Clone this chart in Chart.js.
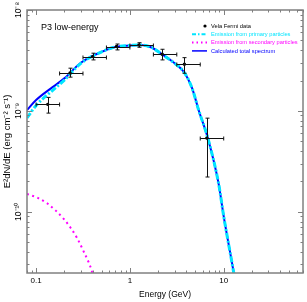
<!DOCTYPE html>
<html>
<head>
<meta charset="utf-8">
<script src="https://cdn.jsdelivr.net/npm/chart.js@4.4.1/dist/chart.umd.min.js"></script>
<style>
  html, body { margin: 0; padding: 0; background: #fff; }
  canvas { display: block; }
</style>
</head>
<body>
<canvas id="sed" width="307" height="302"></canvas>
<script>
'use strict'

const FONT = '"Liberation Sans", Arial, sans-serif'

// Vela Fermi data (energy in GeV, E^2 dN/dE in erg cm^-2 s^-1)
const dataE    = [0.133, 0.23, 0.40, 0.72, 1.25, 2.21, 3.81, 6.6]
const dataELow = [0.1, 0.178, 0.316, 0.562, 1.0, 1.78, 3.16, 5.62]
const dataEHigh = [0.178, 0.316, 0.562, 1.0, 1.78, 3.16, 5.62, 10.0]
const dataF    = [1.16e-9, 2.38e-9, 3.45e-9, 4.34e-9, 4.5e-9, 3.64e-9, 2.9e-9, 5.37e-10]
const dataFLow = [0.95e-9, 2.16e-9, 3.2e-9, 4.02e-9, 4.27e-9, 3.2e-9, 2.36e-9, 2.21e-10]
const dataFHigh = [1.36e-9, 2.65e-9, 3.73e-9, 4.6e-9, 4.74e-9, 4.08e-9, 3.37e-9, 8.47e-10]

// model curves
const totalE = [0.08, 0.1, 0.15, 0.2, 0.3, 0.5, 0.7, 1.0, 1.3, 1.7, 2.2, 3.0, 3.8, 4.6, 5.4, 6.8, 8.8, 10, 12.8, 14]
const totalF = [1.02e-9, 1.28e-9, 1.72e-9, 2.1e-9, 3.0e-9, 3.85e-9, 4.3e-9, 4.45e-9, 4.5e-9, 4.25e-9, 3.64e-9, 2.96e-9, 2.4e-9, 1.68e-9, 1.02e-9, 5.3e-10, 1.92e-10, 9e-11, 2.47e-11, 1.5e-11]
const primaryE = [0.08, 0.1, 0.15, 0.2, 0.3, 0.5, 0.7, 1.0, 1.3, 1.7, 2.2, 3.0, 3.8, 4.6, 5.4, 6.8, 8.8, 10, 12.8, 14]
const primaryF = [8.5e-10, 1.13e-9, 1.6e-9, 2.02e-9, 2.96e-9, 3.85e-9, 4.3e-9, 4.45e-9, 4.5e-9, 4.25e-9, 3.64e-9, 2.96e-9, 2.4e-9, 1.68e-9, 1.02e-9, 5.3e-10, 1.92e-10, 9e-11, 2.47e-11, 1.5e-11]
const secondaryE = [0.08, 0.104, 0.133, 0.163, 0.198, 0.234, 0.273, 0.321, 0.366, 0.387, 0.42]
const secondaryF = [1.5e-10, 1.37e-10, 1.2e-10, 1.02e-10, 8.45e-11, 6.9e-11, 5.5e-11, 4.05e-11, 3.1e-11, 2.7e-11, 2.0e-11]

// axes
const xMajor = [0.1, 1, 10]
const xMajorLabels = ['0.1', '1', '10']
const yMajor = [1e-10, 1e-9, 1e-8]
const yMajorLabels = ['10⁻¹⁰', '10⁻⁹', '10⁻⁸']
const xRange = [0.08, 70]
const yRange = [2.47e-11, 1e-8]

const legendItems = [
  {text: 'Vela Fermi data', color: '#000000', kind: 'point'},
  {text: 'Emission from primary particles', color: '#00e5ff', kind: 'dashdot'},
  {text: 'Emission from secondary particles', color: '#ff00ff', kind: 'dot'},
  {text: 'Calculated total spectrum', color: '#0000ff', kind: 'solid'}
]

function toXY(xs, ys) {
  return xs.map((x, i) => ({x: x, y: ys[i]}))
}

// all decade multiples inside the range, majors flagged
function logTicks(majors, range) {
  const out = []
  const first = majors[0] / 10
  for (let d = first; d <= majors[majors.length - 1] * 10; d *= 10) {
    for (let m = 1; m <= 9; m++) {
      const v = +(m * d).toPrecision(6)
      if (v >= range[0] * 0.999 && v <= range[1] * 1.001) out.push({value: v, major: m === 1})
    }
  }
  return out
}

function labelFor(v, majors, labels) {
  const i = majors.findIndex(m => Math.abs(Math.log10(m) - Math.log10(v)) < 1e-6)
  return i >= 0 ? labels[i] : ''
}

const framePlugin = {
  id: 'frame',
  afterDatasetsDraw(chart) {
    const {ctx, scales: {x, y}} = chart
    ctx.save()
    ctx.strokeStyle = '#111'
    ctx.lineWidth = 1
    ctx.beginPath()
    dataE.forEach((e, i) => {
      const px = x.getPixelForValue(e)
      const py = y.getPixelForValue(dataF[i])
      const x0 = x.getPixelForValue(dataELow[i])
      const x1 = x.getPixelForValue(dataEHigh[i])
      const y0 = y.getPixelForValue(dataFLow[i])
      const y1 = y.getPixelForValue(dataFHigh[i])
      const cx = Math.round(px) + 0.5
      const cy = Math.round(py) + 0.5
      ctx.moveTo(x0, cy); ctx.lineTo(x1, cy)
      ctx.moveTo(x0, cy - 2); ctx.lineTo(x0, cy + 2)
      ctx.moveTo(x1, cy - 2); ctx.lineTo(x1, cy + 2)
      ctx.moveTo(cx, y0); ctx.lineTo(cx, y1)
      ctx.moveTo(cx - 2, y0); ctx.lineTo(cx + 2, y0)
      ctx.moveTo(cx - 2, y1); ctx.lineTo(cx + 2, y1)
    })
    ctx.stroke()
    ctx.restore()
  },
  afterDraw(chart) {
    const {ctx, chartArea: a, scales: {x, y}} = chart
    ctx.save()
    // spines
    ctx.strokeStyle = '#808080'
    ctx.lineWidth = 1.5
    ctx.strokeRect(a.left, a.top, a.right - a.left, a.bottom - a.top)
    // inward ticks on all four sides
    ctx.lineWidth = 1
    ctx.beginPath()
    x.ticks.forEach(t => {
      const px = Math.round(x.getPixelForValue(t.value)) + 0.5
      const len = t.major ? 5 : 2.5
      ctx.moveTo(px, a.bottom); ctx.lineTo(px, a.bottom - len)
      ctx.moveTo(px, a.top); ctx.lineTo(px, a.top + len)
    })
    y.ticks.forEach(t => {
      const py = Math.round(y.getPixelForValue(t.value)) + 0.5
      const len = t.major ? 5 : 2.5
      ctx.moveTo(a.left, py); ctx.lineTo(a.left + len, py)
      ctx.moveTo(a.right, py); ctx.lineTo(a.right - len, py)
    })
    ctx.stroke()

    // panel label
    ctx.fillStyle = '#000'
    ctx.font = '9px ' + FONT
    ctx.textBaseline = 'middle'
    ctx.textAlign = 'left'
    ctx.fillText('P3 low-energy', a.left + 14, a.top + 18)

    // legend
    const lx = a.left + 165
    const ly = a.top + 16
    ctx.font = '6px ' + FONT
    legendItems.forEach((it, i) => {
      const yy = ly + i * 8.3
      ctx.strokeStyle = it.color
      ctx.fillStyle = it.color
      if (it.kind === 'point') {
        ctx.beginPath()
        ctx.arc(lx + 13, yy, 1.6, 0, Math.PI * 2)
        ctx.fill()
      } else {
        ctx.beginPath()
        ctx.lineWidth = it.kind === 'solid' ? 1.5 : 2
        ctx.setLineDash(it.kind === 'dashdot' ? [4, 2, 1.5, 2] : it.kind === 'dot' ? [1.5, 3] : [])
        ctx.moveTo(lx, yy); ctx.lineTo(lx + 15, yy)
        ctx.stroke()
        ctx.setLineDash([])
      }
      const w = ctx.measureText(it.text).width
      ctx.fillText(it.text, lx + 19, yy, Math.min(w, w * 93 / 98))
    })
    ctx.restore()
  }
}

const sedChart = new Chart(
  document.getElementById('sed'),
  {
    type: 'scatter',
    data: {
      datasets: [
        {
          label: 'Vela Fermi data',
          data: toXY(dataE, dataF),
          pointRadius: 1.7,
          pointBackgroundColor: '#000',
          pointBorderWidth: 0,
          order: 0
        },
        {
          label: 'Emission from primary particles',
          data: toXY(primaryE, primaryF),
          showLine: true,
          pointRadius: 0,
          borderColor: '#00e5ff',
          borderWidth: 3,
          borderDash: [6, 2, 2, 2],
          cubicInterpolationMode: 'monotone',
          order: 1
        },
        {
          label: 'Emission from secondary particles',
          data: toXY(secondaryE, secondaryF),
          showLine: true,
          pointRadius: 0,
          borderColor: '#ff00ff',
          borderWidth: 2,
          borderDash: [2, 3.5],
          cubicInterpolationMode: 'monotone',
          order: 2
        },
        {
          label: 'Calculated total spectrum',
          data: toXY(totalE, totalF),
          showLine: true,
          pointRadius: 0,
          borderColor: '#0000ff',
          borderWidth: 2,
          cubicInterpolationMode: 'monotone',
          order: 3
        }
      ]
    },
    options: {
      responsive: false,
      devicePixelRatio: 1,
      animation: false,
      layout: {padding: {top: 10, right: 1, bottom: 0, left: 0}},
      plugins: {
        legend: {display: false},
        tooltip: {enabled: false}
      },
      scales: {
        x: {
          type: 'logarithmic',
          min: xRange[0],
          max: xRange[1],
          afterBuildTicks: (s) => { s.ticks = logTicks(xMajor, xRange) },
          afterFit: (s) => { s.height = 29 },
          grid: {display: false, drawTicks: false},
          border: {display: false},
          ticks: {
            autoSkip: false,
            maxRotation: 0,
            padding: 3,
            color: '#000',
            font: {family: FONT, size: 8},
            callback: (v) => labelFor(v, xMajor, xMajorLabels)
          },
          title: {
            display: true,
            text: 'Energy (GeV)',
            color: '#000',
            font: {family: FONT, size: 8.5},
            padding: {top: 0, bottom: 2}
          }
        },
        y: {
          type: 'logarithmic',
          min: yRange[0],
          max: yRange[1],
          afterBuildTicks: (s) => { s.ticks = logTicks(yMajor, yRange) },
          afterFit: (s) => { s.width = 27 },
          grid: {display: false, drawTicks: false},
          border: {display: false},
          ticks: {
            autoSkip: false,
            minRotation: 90,
            maxRotation: 90,
            crossAlign: 'center',
            padding: -1,
            color: '#000',
            font: {family: FONT, size: 8.5},
            callback: (v) => labelFor(v, yMajor, yMajorLabels)
          },
          title: {
            display: true,
            text: 'E²dN/dE (erg cm⁻² s⁻¹)',
            color: '#000',
            font: {family: FONT, size: 9.5},
            padding: {top: 2, bottom: 0}
          }
        }
      }
    },
    plugins: [framePlugin]
  }
)
</script>
</body>
</html>
